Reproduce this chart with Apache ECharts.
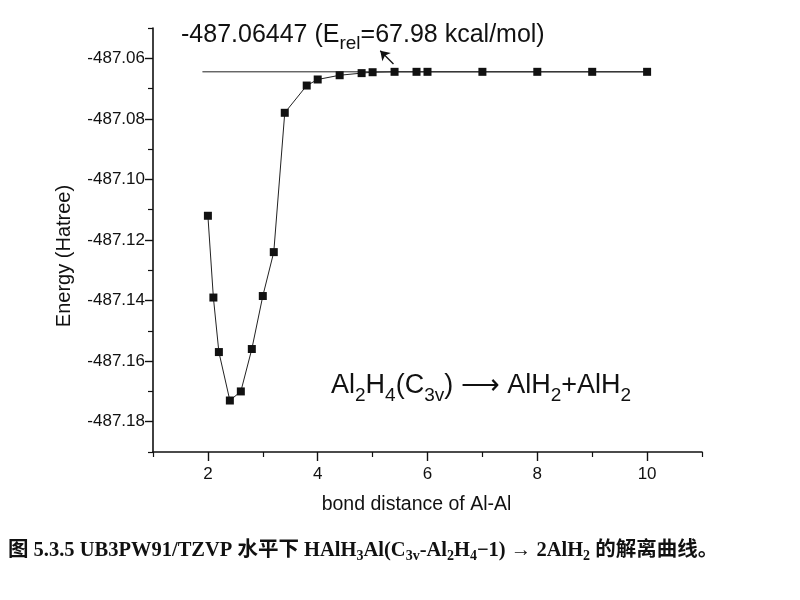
<!DOCTYPE html>
<html>
<head>
<meta charset="utf-8">
<script src="https://cdn.jsdelivr.net/npm/echarts@6/dist/echarts.min.js"></script>
<style>html,body{margin:0;padding:0;background:#fff;}#c{width:800px;height:600px;}</style>
</head>
<body>
<div id="c"></div>
<script>
// bond distance Al-Al (x) and energy (Hartree)
var bondDistance = [2.0, 2.1, 2.2, 2.4, 2.6, 2.8, 3.0, 3.2, 3.4, 3.8, 4.0, 4.4, 4.8, 5.0, 5.4, 5.8, 6.0, 7.0, 8.0, 9.0, 10.0];
var energy = [-487.112, -487.139, -487.157, -487.173, -487.170, -487.156, -487.1385, -487.124, -487.078, -487.069, -487.067, -487.0656, -487.0649, -487.0646, -487.06447, -487.06447, -487.06447, -487.06447, -487.06447, -487.06447, -487.06447];
// dissociation limit reference line
var refLineX = [1.9, 10.0];
var refEnergy = -487.06447;
// arrow from the plateau up to the annotation
var arrowFrom = [5.38, -487.0619];
var arrowTo = [5.14, -487.0575];
// tick labels
var yTicks = [-487.18, -487.16, -487.14, -487.12, -487.10, -487.08, -487.06];
var yMinorTicks = [-487.19, -487.17, -487.15, -487.13, -487.11, -487.09, -487.07, -487.05];
var xTicks = [2, 4, 6, 8, 10];
var xMinorTicks = [1, 3, 5, 7, 9, 11];

var SANS = '"Liberation Sans", Arial, sans-serif';
var SERIF = '"Liberation Serif", "Noto Sans CJK SC", serif';

var chart = echarts.init(document.getElementById('c'), null, {renderer: 'canvas'});
var axisLine = {show: true, lineStyle: {color: '#111', width: 1.6}};
var option = {
  animation: false,
  backgroundColor: '#fff',
  grid: {left: 153, top: 28, right: 98, bottom: 148, containLabel: false},
  xAxis: [{
    type: 'value', min: 1, max: 11, interval: 1,
    name: 'bond distance of Al-Al', nameLocation: 'middle', nameGap: 43,
    nameTextStyle: {fontFamily: SANS, fontSize: 19.5, color: '#111', padding: [0, 22, 0, 0]},
    axisLine: axisLine,
    axisTick: {show: true, length: 9, customValues: xTicks, lineStyle: {color: '#111', width: 1.4}},
    axisLabel: {customValues: xTicks, fontFamily: SANS, fontSize: 17, color: '#111', margin: 14},
    splitLine: {show: false}
  }, {
    type: 'value', min: 1, max: 11, interval: 1, position: 'bottom',
    axisLine: {show: false},
    axisTick: {show: true, length: 5, customValues: xMinorTicks, lineStyle: {color: '#111', width: 1.2}},
    axisLabel: {show: false}, splitLine: {show: false}
  }],
  yAxis: [{
    type: 'value', min: -487.19, max: -487.05, interval: 0.01,
    name: 'Energy (Hatree)', nameLocation: 'middle', nameGap: 79, nameRotate: 90,
    nameTextStyle: {fontFamily: SANS, fontSize: 20, color: '#111', padding: [0, 32, 0, 0]},
    axisLine: axisLine,
    axisTick: {show: true, length: 8, customValues: yTicks, lineStyle: {color: '#111', width: 1.4}},
    axisLabel: {customValues: yTicks, fontFamily: SANS, fontSize: 17, color: '#111', margin: 8,
      formatter: function (v) { return v.toFixed(2); }},
    splitLine: {show: false}
  }, {
    type: 'value', min: -487.19, max: -487.05, interval: 0.01, position: 'left',
    axisLine: {show: false},
    axisTick: {show: true, length: 5, customValues: yMinorTicks, lineStyle: {color: '#111', width: 1.2}},
    axisLabel: {show: false}, splitLine: {show: false}
  }],
  series: [{
    type: 'line',
    data: refLineX.map(function (x) { return [x, refEnergy]; }),
    symbol: 'none',
    lineStyle: {color: '#222', width: 1},
    z: 1,
    markLine: {
      silent: true, symbol: ['none', 'arrow'], symbolSize: 9,
      label: {show: false},
      lineStyle: {color: '#111', width: 1.3, type: 'solid'},
      data: [[{coord: arrowFrom}, {coord: arrowTo}]]
    }
  }, {
    type: 'line',
    data: bondDistance.map(function (x, i) { return [x, energy[i]]; }),
    symbol: 'rect', symbolSize: 8,
    itemStyle: {color: '#111'},
    lineStyle: {color: '#222', width: 1},
    z: 3
  }],
  graphic: [{
    type: 'text', left: 181, top: 23,
    style: {
      text: '{n|-487.06447 (E}{s|rel}{n|=67.98 kcal/mol)}',
      rich: {
        n: {fontFamily: SANS, fontSize: 25, fill: '#111', verticalAlign: 'top'},
        s: {fontFamily: SANS, fontSize: 19, fill: '#111', verticalAlign: 'top', padding: [11, 0, 0, 0]}
      }
    }
  }, {
    type: 'text', left: 331, top: 372,
    style: {
      text: '{n|Al}{s|2}{n|H}{s|4}{n|(C}{s|3v}{n|) ⟶ AlH}{s|2}{n|+AlH}{s|2}',
      rich: {
        n: {fontFamily: SANS, fontSize: 27, fill: '#111', verticalAlign: 'top'},
        s: {fontFamily: SANS, fontSize: 19, fill: '#111', verticalAlign: 'top', padding: [14, 0, 0, 0]}
      }
    }
  }, {
    type: 'text', left: 8, top: 540,
    style: {
      text: '{n|图 5.3.5 UB3PW91/TZVP 水平下 HAlH}{s|3}{n|Al(C}{s|3v}{n|-Al}{s|2}{n|H}{s|4}{n|−1) → 2AlH}{s|2}{n| 的解离曲线。}',
      rich: {
        n: {fontFamily: SERIF, fontSize: 20.5, fontWeight: 'bold', fill: '#111', verticalAlign: 'top'},
        s: {fontFamily: SERIF, fontSize: 14, fontWeight: 'bold', fill: '#111', verticalAlign: 'top', padding: [9, 0, 0, 0]}
      }
    }
  }]
};
chart.setOption(option);
</script>
</body>
</html>
